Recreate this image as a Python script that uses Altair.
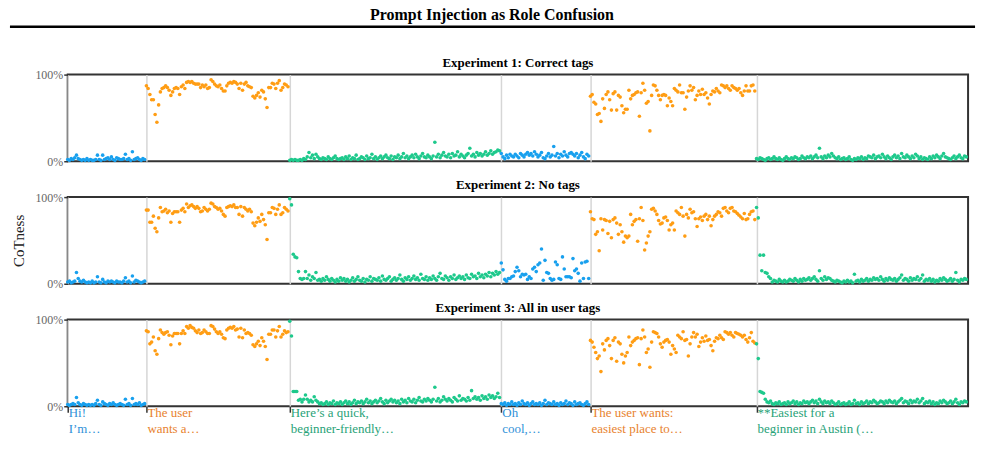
import altair as alt
import pandas as pd

TITLE = "Prompt Injection as Role Confusion"
PANEL_TITLES = ["Experiment 1: Correct tags", "Experiment 2: No tags", "Experiment 3: All in user tags"]
ROLES = ["user", "reasoning", "response", "user", "reasoning", "response"]
ROLE_NAMES = ["user", "reasoning", "response"]
SEG_LABELS = ["Hi!\nI’m…", "The user\nwants a…", "Here’s a quick,\nbeginner-friendly…",
              "Oh\ncool,…", "The user wants:\neasiest place to…", "**Easiest for a\nbeginner in Austin (…"]

# ---------------- Experiment 1 ----------------
e1_user1 = [2,1,3,2,4,7,3,2,1,2, 1,3,1,2,1,1,2,7,2,1, 7,2,3,4,2,5,2,1,4,3, 2,2,3,8,2,3,1,11,2,3, 4,2,1,3,2]
e1_reason1 = [87,84,77,71,71,54,45,65,80,84, 85,87,85,82,76,80,84,85,84,77, 86,88,
              84,91,92,91,92,90,89,89,89,85, 88,86,88,84,85,94,92,89,87,86, 88,84,
              81,81,87,90,91,90,92,91,89,84, 90,82,89,91,87,86,85,75,73,76, 79,74,
              82,80,72,62,85,85,90,89,84,90, 93,82,85,89, 88,86]
e1_resp1 = [1,2,1,2,1,1,2,1,3,2, 5,10,4,7,3,8,5,3,2,4, 3,2,5,3,2,4,6,3,2,3, 4,2,5,3,6,2,4,3,7,2,
            3,5,4,2,6,3,4,8,3,5, 2,4,6,3,5,7,4,3,6,2, 5,4,7,3,5,9,4,6,3,5, 7,4,8,5,3,6,9,5,4,7,
            5,3,6,22,5,8,4,7,10,6, 5,8,4,9,6,7,11,5,8,6, 4,7,9,15,6,8,5,10,7,9, 6,8,11,7,9,12,8,10,11,13, 12]
e1_user2 = [9,5,3,7,4,8,6,5,8,6, 4,9,7,5,8,10,7,9,6,11, 8,5,7,10,4,3,6,9,5,7, 17,6,9,4,8,6,11,7,5,9,
            10,8,6,9,4,7,10,5,3,8, 6]
e1_reason2 = [75,77,68,66,54,55,46,72,61,77, 80,71,59,78,80,59,76,74,64,56, 60,60,82,72,76,77,79,80,52,79,
              90,82,67,69,35,76,88,87,82, 76,71,76,77,76,64,73,69,64, 84,82,80,88,79,79,60,74,81,87,
              82,85,71,76,81,77,83,77,79,73, 66,77,81,80,84,81,79,88,87,85, 87,84,82,87,85,84,82,84,79,
              76,81,87,81,81,87,88,81]
e1_resp2 = [3,2,4,3,2,1,3,4,2,3, 5,3,2,4,2,1,3,5,3,2, 4,3,5,4,2,3,6,4,3,5, 4,6,3,5,7,4,15,5,3,6,
            4,7,5,9,6,4,3,5,2,3, 4,2,3,5,2,1,3,2,4,3, 5,2,4,3,6,5,4,7,3,5, 6,4,8,5,3,6,4,2,5,7,
            4,6,3,9,5,4,7,5,3,6, 4,8,6,3,5,2,4,3,2,5, 3,6,4,7,5,3,6,9,5,4, 3,2,4,6,3,5,7,4,3,6, 5]

# ---------------- Experiment 2 ----------------
e2_user1 = [2,3,1,2,3,13,6,3,2,4, 2,1,2,1,3,1,2,8,2,1, 5,2,1,3,2,3,2,1,3,2, 2,1,3,7,2,3,1,9,2,4, 3,2,1,2,3]
e2_reason1 = [85,85,71,71,78,64,60,76,88,83, 84,86,82,84,71,81,83,83,83,71, 85,87,
              83,92,88,90,91,89,87,89,87,83, 84,88,86,84,86,93,92,89,88,86, 87,84,
              80,78,88,89,90,89,91,88,88,80, 89,78,88,86,84,86,83,70,67,71, 76,72,
              80,74,68,51,82,82,88,87,80,86, 91,80,82,88, 86,84]
e2_resp1 = [98,91,34,31,30,14,6,5,6,14, 6,10,4,8,6,13,4,5,3,6, 4,8,5,3,6,4,2,5,3,7, 4,6,3,5,2,4,7,3,5,8,
            4,3,6,2,5,4,8,3,6,5, 4,7,3,9,5,4,6,8,3,5, 7,4,6,10,5,3,7,5,8,4, 6,9,5,7,4,11,6,5,8,4,
            7,5,9,6,4,8,12,6,5,9, 7,4,8,6,10,5,7,9,6,8, 5,10,7,6,11,8,9,6,12,8, 10,7,11,9,13,8,12,10,14,11, 13]
e2_user2 = [24,16,5,3,6,6,8,9,14,19, 15,8,11,10,11,5,8,6,17,19, 14,22,24,40,4,27,13,12,6,4,
            5,25,22,6,5,31,17,8,8,8, 7,29,15,17,12,3,24,6,25,26,6]
e2_reason2 = [83,75,74,57,60,38,75,62,74,73, 58,72,53,74,76,70,57,68,60,48, 55,53,55,80,68,72,74,49,
              75,88,73,39,47,55,60,86,87,84, 80,73,69,70,76,77,73,62,68, 70,62,84,82,80,88,78,55,80,76,
              86,82,83,75,66,75,77,73,78,80, 74,78,67,74,78,80,83,82,78,87, 88,84,82,87,88,84,83,81,79,
              77,75,81,74,75,80,83,84,74]
e2_resp2 = [88,76,33,15,33,13,12,8,6,2, 4,3,2,5,3,2,4,2,3,5, 4,3,6,4,2,5,3,6,4,5, 7,4,6,8,5,3,15,6,4,8,
            5,7,6,4,3,2,4,3,2,1, 3,2,4,2,3,1,11,3,4,2, 5,3,4,6,3,5,4,7,5,6, 4,8,5,3,6,4,7,5,4,6,
            3,5,7,10,4,6,5,3,7,4, 6,5,8,4,6,10,3,5,4,6, 3,5,2,4,3,6,4,7,5,3, 4,6,3,5,13,4,2,5,4,6, 5]

# ---------------- Experiment 3 ----------------
e3_user1 = [2,1,2,3,2,10,4,2,1,3, 2,1,2,1,2,1,3,7,2,1, 5,3,2,1,3,2,4,2,1,2, 3,2,1,8,2,3,1,9,2,3, 2,4,1,2,3]
e3_reason1 = [87,86,72,74,80,64,60,78,88,85, 83,85,86,82,71,81,84,84,84,72, 84,87,
              84,92,90,93,91,90,87,85,88,84, 85,88,86,84,84,93,92,89,86,84, 86,83,
              79,78,88,90,91,90,92,88,89,80, 90,79,88,84,85,84,82,71,69,72, 75,70,
              79,75,69,54,83,83,88,88,80,87, 92,80,83,87, 85,86]
e3_resp1 = [98,81,17,17,17,7,8,5,8,13, 8,5,7,5,11,7,5,3,4,2, 3,5,2,4,3,6,2,4,3,5, 2,4,6,3,5,2,4,7,3,5,
            4,6,3,5,8,4,6,3,5,7, 4,6,9,5,3,7,4,6,8,5, 7,4,6,3,8,5,7,4,9,6, 5,8,4,7,10,6,5,8,6,9,
            7,5,8,22,6,9,5,7,11,8, 6,9,7,5,10,8,6,12,7,9, 8,6,10,7,18,9,11,8,10,7, 12,9,11,8,13,10,12,9,11,15, 10]
e3_user2 = [3,2,4,1,3,2,5,2,3,1, 4,2,6,3,2,4,1,3,5,2, 3,2,4,1,3,7,2,4,3,2, 5,2,3,1,4,2,3,6,2,4,
            3,1,5,2,3,4,2,1,3,5, 2]
e3_reason2 = [76,74,68,62,55,58,40,72,65,76, 78,70,55,76,79,52,74,72,60,50, 58,62,80,70,74,76,78,79,48,78,
              88,80,62,66,45,74,86,85,84,80, 72,68,74,76,77,74,60,70,66,62, 82,80,78,86,76,77,58,72,80,85,
              80,83,69,74,79,75,81,76,77,70, 64,75,79,78,82,79,77,86,85,83, 85,82,80,85,84,83,82,80,82,77,
              74,79,85,75,73]
e3_resp2 = [72,55,17,16,15,8,5,4,6,3, 2,4,3,5,2,3,4,2,5,3, 4,6,3,5,2,4,3,6,4,5, 3,5,7,4,6,3,8,5,3,6,
            4,5,3,6,4,2,3,5,2,3, 4,2,3,5,2,3,7,3,4,2, 5,3,4,6,3,5,4,7,5,3, 4,6,5,3,6,4,7,5,4,6,
            3,5,7,9,4,6,5,3,7,4, 6,5,8,4,6,9,3,5,4,6, 3,5,2,4,3,6,4,7,5,3, 4,6,3,5,8,4,2,5,4,6, 5]

EXPERIMENTS = [
    [e1_user1, e1_reason1, e1_resp1, e1_user2, e1_reason2, e1_resp2],
    [e2_user1, e2_reason1, e2_resp1, e2_user2, e2_reason2, e2_resp2],
    [e3_user1, e3_reason1, e3_resp1, e3_user2, e3_reason2, e3_resp2],
]

# ---------------- build table ----------------
rows = []
starts = []
total = 0
for k, segs in enumerate(EXPERIMENTS):
    pos = 0
    seg_starts = []
    for role, vals in zip(ROLES, segs):
        seg_starts.append(pos)
        for v in vals:
            rows.append({"exp": k, "idx": pos, "value": v, "role": role})
            pos += 1
    if k == 0:
        starts = seg_starts
        total = pos
df = pd.DataFrame(rows)
labels_df = pd.DataFrame({"pos": starts, "label": SEG_LABELS, "lrole": ROLES})

DOT_COLORS = ["#18a0ee", "#ff9d14", "#1ec98c"]
TEXT_COLORS = ["#2f91d8", "#e8822e", "#27a277"]
FONT = "Liberation Serif"
W, H = 904, 87


def panel(k, show_ytitle, bottom, top):
    x_axis = alt.Axis(values=starts, grid=True, gridColor="#d6d6d6", gridWidth=1.5,
                      labels=False, ticks=bottom, tickColor="#333333", tickSize=6, tickWidth=1.5,
                      domain=False, title=None)
    y_axis = alt.Axis(values=[0, 100], labelExpr="datum.value + '%'", labelColor="#666666",
                      labelFont=FONT, labelFontSize=12, labelPadding=1, tickSize=4,
                      tickColor="#333333", tickWidth=1.5, domain=False, grid=False,
                      title="CoTness" if show_ytitle else None, titleFont=FONT, titleFontSize=15,
                      titleFontWeight="normal", titleColor="#222222", titlePadding=8)
    pts = alt.Chart(df[df.exp == k]).mark_circle(size=13, opacity=1).encode(
        x=alt.X("idx:Q", scale=alt.Scale(domain=[0, total], nice=False, zero=False), axis=x_axis),
        y=alt.Y("value:Q", scale=alt.Scale(domain=[0, 100], nice=False), axis=y_axis),
        color=alt.Color("role:N", scale=alt.Scale(domain=ROLE_NAMES, range=DOT_COLORS), legend=None),
    )
    ptitle = alt.Chart(pd.DataFrame({"t": [PANEL_TITLES[k]]})).mark_text(
        font=FONT, fontSize=13, fontWeight="bold", color="black", align="center", baseline="middle"
    ).encode(text="t:N", x=alt.value(W / 2), y=alt.value(-12))
    layers = [pts, ptitle]
    if top:
        one = pd.DataFrame({"t": [TITLE]})
        anchor = alt.Chart(one).mark_rule(color="white", strokeWidth=0.5).encode(
            x=alt.value(-66), x2=alt.value(919), y=alt.value(-72))
        rule = alt.Chart(one).mark_rule(color="black", strokeWidth=2.5).encode(
            x=alt.value(-58), x2=alt.value(911), y=alt.value(-48))
        ttl = alt.Chart(one).mark_text(font=FONT, fontSize=16, fontWeight="bold", color="black",
                                       align="center", baseline="middle").encode(
            text="t:N", x=alt.value(426), y=alt.value(-60))
        layers += [anchor, rule, ttl]
    if bottom:
        txt = alt.Chart(labels_df).mark_text(font=FONT, fontSize=13, align="left", baseline="top",
                                             lineBreak="\n", lineHeight=16, dx=1).encode(
            x=alt.X("pos:Q"),
            y=alt.value(H + 1),
            text="label:N",
            color=alt.Color("lrole:N", scale=alt.Scale(domain=ROLE_NAMES, range=TEXT_COLORS), legend=None),
        )
        layers.append(txt)
    ch = alt.layer(*layers).properties(width=W, height=H)
    if bottom:
        ch = ch.resolve_scale(color="independent")
    return ch


chart = alt.vconcat(
    panel(0, False, False, True),
    panel(1, True, False, False),
    panel(2, False, True, False),
    spacing=10,
).properties(
    padding={"left": 0, "top": 0, "right": 0, "bottom": 0},
    background="white",
).configure(font=FONT).configure_view(stroke="#333333", strokeWidth=2)

chart.save("out.html", embed_options={"renderer": "svg", "actions": False})
